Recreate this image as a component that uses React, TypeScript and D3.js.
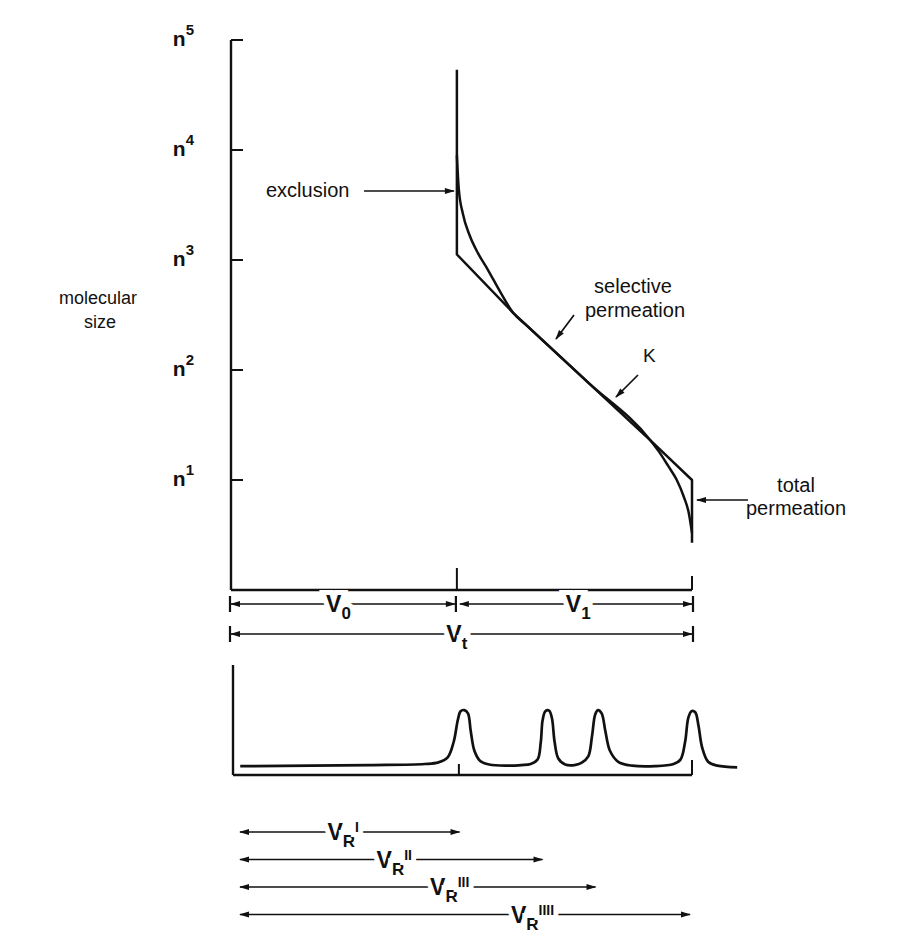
import React from 'react';
import * as d3 from 'd3';

// log molecular size ticks n^1 .. n^5
const sizeTicks = [1, 2, 3, 4, 5];

// elution volume units: 0 = start, 100 = Vt
const V0 = 49;
const Vt = 100;

// idealised calibration (polyline)
const kVolume = [49, 49, 61.2, 91.5, 100, 100];
const kSize = [4.73, 3.05, 2.52, 1.34, 1.0, 0.43];

// real calibration curve
const curveVolume = [49, 49.4, 50.3, 51.8, 53.6, 55.6, 58.4, 61.2, 64, 77.5, 91, 92.8, 94.8, 96.7, 98.2, 99.3, 100];
const curveSize = [3.95, 3.65, 3.42, 3.22, 3.06, 2.92, 2.71, 2.52, 2.41, 1.885, 1.36, 1.26, 1.13, 1.0, 0.85, 0.7, 0.52];

// chromatogram trace
const chromVolume = [
  2, 30, 42, 45, 47, 48.3, 49.2, 49.8, 50.6, 51.4, 52, 52.8, 54, 56, 60, 63, 65, 66.5, 67.2, 67.6,
  68.2, 69, 69.6, 70.2, 71, 72.5, 74.5, 76, 77.5, 78.3, 79, 79.6, 80.4, 81.2, 82.2, 84, 87, 92, 96,
  97.5, 98.5, 99.2, 99.9, 100.7, 101.4, 102.2, 103.5, 105.5, 109.8,
];
const chromSignal = [
  8, 9, 10, 11.5, 16, 30, 50, 58, 59, 56, 40, 22, 13, 9.5, 8.5, 9, 10, 14, 30, 50,
  58, 58.5, 52, 30, 15, 9.5, 9, 11, 17, 35, 55, 59, 56, 40, 22, 12, 8.5, 8, 10,
  14, 30, 52, 58, 57, 45, 25, 12, 8.5, 7,
];

// retention volumes of the peaks
const peakVolume = [50, 68, 79.5, 100];
const peakLabels = ['I', 'II', 'III', 'IIII'];

const FONT = '"Liberation Sans", Arial, Helvetica, sans-serif';

export default function App() {
  const x = d3.scaleLinear().domain([0, Vt]).range([231, 692]);
  const ySize = d3.scaleLinear().domain([0, 5]).range([590, 40]);
  const ySig = d3.scaleLinear().domain([0, 100]).range([775, 665]);

  const sizeLine = d3
    .line<number>()
    .x((_, i) => x(kVolume[i]))
    .y((d) => ySize(d));
  const curveLine = d3
    .line<number>()
    .x((_, i) => x(curveVolume[i]))
    .y((d) => ySize(d))
    .curve(d3.curveMonotoneX);
  const chromLine = d3
    .line<number>()
    .x((_, i) => x(chromVolume[i]))
    .y((d) => ySig(d))
    .curve(d3.curveCatmullRom.alpha(0.5));

  const stroke = '#111';

  // a horizontal dimension arrow with a label cut into it
  const dimRow = (
    x1: number, x2: number, y: number, sub: string,
    pos: number, bars: [boolean, boolean], supText?: string, key?: string
  ) => {
    const lx = x1 + (x2 - x1) * pos;
    return (
      <g key={key}>
        <line x1={x1} x2={x2} y1={y} y2={y} stroke={stroke} strokeWidth={1.7}
          markerStart="url(#arrow)" markerEnd="url(#arrow)" />
        {bars[0] && <line x1={x1 - 1} x2={x1 - 1} y1={y - 8} y2={y + 8} stroke={stroke} strokeWidth={2.2} />}
        {bars[1] && <line x1={x2 + 1} x2={x2 + 1} y1={y - 8} y2={y + 8} stroke={stroke} strokeWidth={2.2} />}
        <text x={lx} y={y + 8} textAnchor="middle" fontSize={23} fontWeight="bold" fontFamily={FONT}
          stroke="white" strokeWidth={10} style={{ paintOrder: 'stroke' }} fill={stroke}>
          {'\u00a0V'}
          <tspan fontSize={17} dy={7}>{sub}</tspan>
          {supText ? <tspan fontSize={14} dy={-15}>{supText}</tspan> : null}
          {supText ? <tspan dy={8}>{'\u00a0'}</tspan> : <tspan>{'\u00a0'}</tspan>}
        </text>
      </g>
    );
  };

  return (
    <svg width={903} height={952} style={{ position: 'absolute', left: 0, top: 0, background: 'white' }}>
      <defs>
        <marker id="arrow" viewBox="0 0 10 8" refX={9} refY={4} markerWidth={11} markerHeight={8}
          markerUnits="userSpaceOnUse" orient="auto-start-reverse">
          <path d="M0,1 L10,4 L0,7 Z" fill={stroke} />
        </marker>
      </defs>

      {/* upper plot: y axis */}
      <line x1={x(0)} x2={x(0)} y1={ySize(5)} y2={ySize(0)} stroke={stroke} strokeWidth={2.4} />
      {sizeTicks.map((t) => (
        <g key={t}>
          <line x1={x(0)} x2={x(0) + 12} y1={ySize(t)} y2={ySize(t)} stroke={stroke} strokeWidth={2} />
          <text x={194} y={ySize(t) + 6} textAnchor="end" fontFamily={FONT} fontSize={21} fontWeight="bold" fill={stroke}>
            n<tspan fontSize={15} dy={-11}>{t}</tspan>
          </text>
        </g>
      ))}
      {/* upper plot: x axis */}
      <line x1={x(0)} x2={x(Vt)} y1={ySize(0)} y2={ySize(0)} stroke={stroke} strokeWidth={2.4} />
      <line x1={x(V0)} x2={x(V0)} y1={ySize(0)} y2={ySize(0) - 22} stroke={stroke} strokeWidth={2} />
      <line x1={x(Vt)} x2={x(Vt)} y1={ySize(0)} y2={ySize(0) - 14} stroke={stroke} strokeWidth={2} />

      <text x={98} y={304} textAnchor="middle" fontFamily={FONT} fontSize={18} fill={stroke}>molecular</text>
      <text x={100} y={328} textAnchor="middle" fontFamily={FONT} fontSize={18} fill={stroke}>size</text>

      {/* calibration lines */}
      <path d={sizeLine(kSize) ?? ''} fill="none" stroke={stroke} strokeWidth={2.5} strokeLinejoin="round" />
      <path d={curveLine(curveSize) ?? ''} fill="none" stroke={stroke} strokeWidth={2.5} strokeLinejoin="round" />

      {/* annotations */}
      <text x={266} y={197} fontFamily={FONT} fontSize={20} fill={stroke}>exclusion</text>
      <line x1={364} x2={x(V0) - 3} y1={191} y2={191} stroke={stroke} strokeWidth={1.7} markerEnd="url(#arrow)" />

      <text x={633} y={293} textAnchor="middle" fontFamily={FONT} fontSize={20} fill={stroke}>selective</text>
      <text x={635} y={317} textAnchor="middle" fontFamily={FONT} fontSize={20} fill={stroke}>permeation</text>
      <line x1={574} x2={556} y1={315} y2={339} stroke={stroke} strokeWidth={1.7} markerEnd="url(#arrow)" />

      <text x={643} y={362} fontFamily={FONT} fontSize={19} fill={stroke}>K</text>
      <line x1={638} x2={616} y1={375} y2={397} stroke={stroke} strokeWidth={1.7} markerEnd="url(#arrow)" />

      <text x={796} y={492} textAnchor="middle" fontFamily={FONT} fontSize={20} fill={stroke}>total</text>
      <text x={796} y={515} textAnchor="middle" fontFamily={FONT} fontSize={20} fill={stroke}>permeation</text>
      <line x1={748} x2={x(Vt) + 5} y1={500} y2={500} stroke={stroke} strokeWidth={1.7} markerEnd="url(#arrow)" />

      {/* volume dimension rows */}
      {dimRow(x(0), x(V0) - 2, 604, '0', 0.48, [true, true])}
      {dimRow(x(V0) + 3, x(Vt), 604, '1', 0.51, [false, true])}
      {dimRow(x(0), x(Vt), 634, 't', 0.49, [true, true])}

      {/* lower plot: chromatogram */}
      <line x1={233} x2={233} y1={ySig(100)} y2={ySig(0)} stroke={stroke} strokeWidth={2.4} />
      <line x1={233} x2={x(Vt)} y1={ySig(0)} y2={ySig(0)} stroke={stroke} strokeWidth={2.4} />
      <line x1={x(V0) + 2} x2={x(V0) + 2} y1={ySig(0)} y2={ySig(0) - 11} stroke={stroke} strokeWidth={2} />
      <line x1={x(Vt)} x2={x(Vt)} y1={ySig(0)} y2={ySig(0) - 15} stroke={stroke} strokeWidth={2} />
      <path d={chromLine(chromSignal) ?? ''} fill="none" stroke={stroke} strokeWidth={2.7} strokeLinejoin="round" />

      {/* retention volume rows */}
      {peakVolume.map((v, i) =>
        dimRow(240, x(v) - 2, 832 + i * 27.5, 'R', [0.47, 0.51, 0.59, 0.65][i], [false, false], peakLabels[i], 'r' + i)
      )}
    </svg>
  );
}
